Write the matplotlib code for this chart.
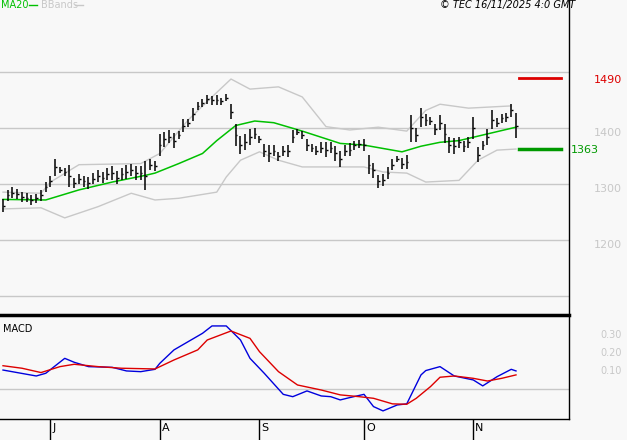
import matplotlib
matplotlib.use("Agg")
import matplotlib.pyplot as plt
import numpy as np

closes = [1262,1280,1285,1282,1278,1276,1272,1275,1280,1295,1305,1330,1325,1322,1315,1302,1310,1305,1302,1310,
          1315,1312,1318,1320,1312,1318,1322,1325,1320,1320,1315,1335,1332,1370,1380,1385,1378,1388,1405,1410,
          1425,1440,1445,1452,1450,1450,1448,1455,1430,1388,1370,1375,1385,1390,1380,1360,1355,1360,1350,1360,
          1360,1385,1393,1388,1370,1365,1360,1365,1362,1365,1355,1345,1360,1362,1370,1372,1370,1335,1325,1305,
          1308,1320,1335,1345,1337,1340,1400,1388,1420,1415,1413,1398,1410,1390,1370,1368,1375,1368,1375,1400,
          1353,1370,1385,1415,1410,1418,1420,1432,1405]
ranges = [24,20,20,18,18,16,18,16,18,18,20,32,10,14,40,18,18,20,22,20,
          22,20,22,24,22,22,24,22,24,24,52,20,18,40,26,24,26,16,24,14,
          24,14,14,16,16,18,14,14,26,40,32,28,28,20,14,24,30,20,16,18,
          22,24,10,14,20,14,16,20,26,20,28,30,20,24,16,14,20,34,26,24,
          22,22,20,10,20,24,48,26,34,20,14,20,26,34,30,28,20,20,20,40,
          26,16,28,34,16,16,16,22,46]
highs = [c + r / 2 for c, r in zip(closes, ranges)]
lows = [c - r / 2 for c, r in zip(closes, ranges)]

ma_idx = [0,9,16,23,30,32,37,42,45,49,53,57,63,71,76,84,88,92,96,102,108]
ma_val = [1273,1272,1290,1304,1316,1320,1337,1355,1378,1405,1413,1410,1395,1373,1370,1358,1368,1375,1378,1390,1402]
up_idx = [0,8,10,16,29,33,39,44,48,52,58,63,68,73,79,85,89,92,98,107]
up_val = [1286,1284,1304,1335,1337,1355,1415,1456,1488,1470,1474,1456,1403,1397,1402,1395,1432,1443,1436,1440]
lo_idx = [0,8,13,20,27,32,37,45,47,50,54,58,63,71,76,80,85,89,96,100,104,108]
lo_val = [1256,1258,1240,1260,1284,1272,1275,1286,1313,1343,1358,1343,1331,1331,1331,1322,1320,1304,1307,1343,1361,1363]

macd_idx = [0,7,9,13,15,18,23,26,29,32,33,36,39,42,44,47,50,52,55,59,61,64,67,69,71,73,76,78,80,83,85,88,89,92,95,99,101,104,107,108]
macd_val = [0.107,0.074,0.089,0.172,0.15,0.126,0.122,0.102,0.098,0.111,0.144,0.219,0.265,0.311,0.352,0.352,0.274,0.172,0.089,-0.028,
            -0.041,-0.009,-0.037,-0.041,-0.059,-0.046,-0.028,-0.096,-0.12,-0.087,-0.081,0.08,0.104,0.126,0.074,0.052,0.019,0.07,0.111,0.102]
sig_idx = [0,4,8,12,15,20,25,32,36,41,43,48,52,54,58,62,67,71,75,78,82,85,87,90,92,95,99,102,105,108]
sig_val = [0.131,0.117,0.093,0.126,0.139,0.126,0.117,0.113,0.163,0.219,0.274,0.324,0.283,0.209,0.098,0.024,-0.004,-0.031,-0.041,-0.05,
           -0.081,-0.083,-0.05,0.015,0.067,0.074,0.061,0.046,0.061,0.08]

month_idx = [10,33,54,76,99]
month_lbl = ["J","A","S","O","N"]
price_ticks = [1400,1300,1200]
grid_levels = [1500,1400,1300,1200,1100]
resistance = 1490
support = 1363
macd_ticks = [0.30,0.20,0.10]

W, H = 627, 440
bg = "#f8f8f8"
fig = plt.figure(figsize=(W/100, H/100), dpi=100, facecolor=bg)

def ax_at(x0, y0, x1, y1):
    return fig.add_axes([x0/W, 1-y1/H, (x1-x0)/W, (y1-y0)/H])

xlim = ((0-3)/4.75, (569-3)/4.75)
ax = ax_at(0, 0, 569, 315)
ax.set_facecolor(bg)
ax.set_xlim(*xlim)
ax.set_ylim(1400-(315-128.3)*1.786, 1400+128.3*1.786)
for s in ax.spines.values():
    s.set_visible(False)
ax.spines["right"].set_visible(True)
ax.spines["right"].set_color("black")
ax.spines["right"].set_linewidth(1)
ax.set_xticks([]); ax.set_yticks([])
for g in grid_levels:
    ax.axhline(g, color="#c8c8c8", lw=1)

idx = np.arange(len(closes))
ax.plot(up_idx, up_val, color="#c8c8c8", lw=1)
ax.plot(lo_idx, lo_val, color="#c8c8c8", lw=1)
ax.plot(ma_idx, ma_val, color="#00c000", lw=1.1)
ax.vlines(idx, lows, highs, color="black", lw=1.1)
ax.hlines(closes, idx, idx + 0.35, color="black", lw=1)

ax.plot([(519-3)/4.75, (561-3)/4.75], [resistance]*2, color="#dd0000", lw=2, clip_on=False)
ax.plot([(519-3)/4.75, (561-3)/4.75], [support]*2, color="#009900", lw=2.5, clip_on=False)

ax.text(594/W, 1-80/H, f"{resistance}", color="#dd0000", fontsize=8, transform=fig.transFigure, va="center")
for p in price_ticks:
    y = 128.3 + (1400-p)/1.786
    ax.text(594/W, 1-(y+5)/H, f"{p}", color="#c8c8c8", fontsize=8, transform=fig.transFigure, va="center")
ax.text(571/W, 1-150/H, f"{support}", color="#009900", fontsize=8, transform=fig.transFigure, va="center")

fig.text(1/W, 1-5/H, "MA20", color="#00c000", fontsize=7, va="center")
fig.lines.append(plt.Line2D([29/W, 37/W], [1-5/H]*2, color="#00c000", lw=1, transform=fig.transFigure))
fig.text(41/W, 1-5/H, "BBands", color="#c8c8c8", fontsize=7, va="center")
fig.lines.append(plt.Line2D([75/W, 83/W], [1-5/H]*2, color="#c8c8c8", lw=1, transform=fig.transFigure))
fig.text(575/W, 1-5/H, "© TEC 16/11/2025 4:0 GMT", color="black", fontsize=7, style="italic", ha="right", va="center")

ax2 = ax_at(0, 315, 569, 419)
ax2.set_facecolor(bg)
ax2.set_xlim(*xlim)
ax2.set_ylim((389.3-419)/180, (389.3-315)/180)
for s in ax2.spines.values():
    s.set_color("black"); s.set_linewidth(1)
ax2.spines["top"].set_linewidth(2.5)
ax2.spines["left"].set_visible(False)
ax2.set_yticks([])
ax2.axhline(0, color="#c8c8c8", lw=1)
ax2.plot(macd_idx, macd_val, color="#0000dd", lw=1)
ax2.plot(sig_idx, sig_val, color="#dd0000", lw=1)
ax2.text(0.005, 0.87, "MACD", transform=ax2.transAxes, fontsize=7, va="center")
for t in macd_ticks:
    y = 389.3 - t*180
    fig.text(600/W, 1-y/H, f"{t:.2f}", color="#c8c8c8", fontsize=7, va="center")
ax2.set_xticks(month_idx)
ax2.set_xticklabels([])
ax2.tick_params(axis="x", direction="out", length=18, width=1, color="black")
for m, l in zip(month_idx, month_lbl):
    ax2.text(m + 0.4, -0.185, l, fontsize=8, ha="left", va="top", transform=ax2.transData, clip_on=False)

fig.savefig("out.png", dpi=100, facecolor=bg)
